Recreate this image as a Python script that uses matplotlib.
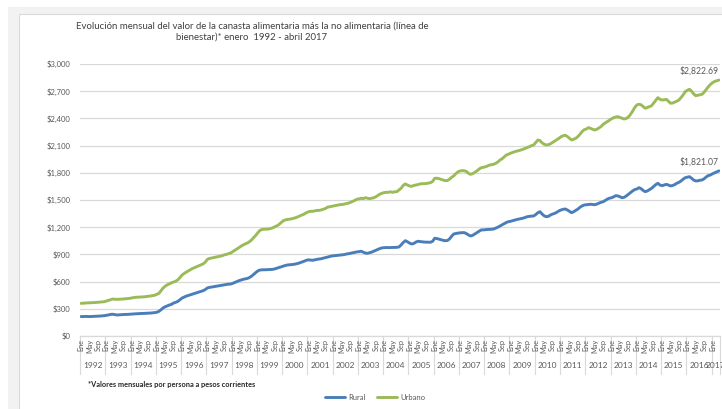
import matplotlib

matplotlib.use("Agg")
import matplotlib.pyplot as plt
import matplotlib.transforms as mtransforms
from matplotlib.lines import Line2D
from matplotlib.patches import Rectangle
import numpy as np

# ---------- Data (monthly, enero 1992 - abril 2017) ----------
years = list(range(1992, 2018))
month_labels = ["Ene", "May", "Sep"]

rural = [
    215, 214, 216, 215, 214, 215, 216, 217, 218, 220, 222, 224,  # 1992
    228, 232, 238, 240, 236, 232, 233, 235, 237, 238, 238, 240,  # 1993
    242, 244, 245, 246, 246, 247, 248, 250, 252, 253, 255, 258,  # 1994
    262, 272, 290, 310, 323, 333, 342, 350, 364, 372, 382, 400,  # 1995
    419, 430, 440, 448, 455, 462, 470, 478, 485, 492, 500, 512,  # 1996
    530, 536, 540, 544, 548, 552, 556, 560, 564, 568, 572, 573,  # 1997
    580, 590, 600, 610, 618, 625, 630, 635, 645, 660, 680, 700,  # 1998
    718, 728, 730, 730, 731, 732, 733, 735, 740, 748, 755, 762,  # 1999
    770, 778, 783, 785, 787, 790, 795, 800, 808, 815, 825, 835,  # 2000
    840, 838, 835, 840, 845, 848, 852, 858, 865, 870, 876, 882,  # 2001
    885, 888, 890, 892, 895, 898, 904, 908, 912, 918, 922, 928,  # 2002
    930, 935, 925, 915, 912, 918, 925, 935, 945, 955, 965, 972,  # 2003
    974, 976, 975, 976, 976, 977, 978, 982, 1004, 1030, 1051, 1040,  # 2004
    1025, 1015, 1020, 1035, 1045, 1042, 1040, 1036, 1035, 1034, 1034, 1045,  # 2005
    1078, 1075, 1068, 1060, 1055, 1051, 1053, 1070, 1100, 1125, 1130, 1135,  # 2006
    1138, 1140, 1140, 1130, 1115, 1103, 1110, 1125, 1140, 1155, 1169, 1170,  # 2007
    1172, 1175, 1176, 1177, 1180, 1190, 1200, 1213, 1225, 1240, 1252, 1261,  # 2008
    1265, 1272, 1279, 1285, 1290, 1295, 1300, 1308, 1316, 1320, 1322, 1324,  # 2009
    1340, 1360, 1371, 1345, 1325, 1316, 1320, 1335, 1345, 1353, 1365, 1380,  # 2010
    1390, 1397, 1401, 1390, 1375, 1360, 1371, 1385, 1400, 1420, 1435, 1445,  # 2011
    1448, 1450, 1453, 1450, 1448, 1455, 1465, 1475, 1481, 1495, 1510, 1520,  # 2012
    1525, 1535, 1548, 1545, 1535, 1525, 1530, 1545, 1563, 1580, 1600, 1615,  # 2013
    1621, 1636, 1625, 1605, 1592, 1600, 1615, 1629, 1650, 1670, 1684, 1665,  # 2014
    1658, 1665, 1673, 1665, 1655, 1660, 1670, 1685, 1695, 1710, 1730, 1746,  # 2015
    1752, 1757, 1740, 1720, 1710, 1712, 1718, 1721, 1735, 1755, 1770, 1776,  # 2016
    1790, 1800, 1810, 1821.07,  # 2017
]

urbano = [
    360, 362, 364, 365, 366, 367, 368, 370, 372, 374, 376, 378,  # 1992
    385, 392, 400, 408, 406, 404, 405, 406, 408, 410, 412, 415,  # 1993
    420, 424, 427, 428, 429, 430, 432, 435, 438, 441, 445, 450,  # 1994
    460, 470, 500, 530, 550, 565, 575, 588, 595, 605, 620, 645,  # 1995
    673, 690, 705, 718, 730, 745, 755, 765, 775, 785, 795, 815,  # 1996
    845, 855, 860, 865, 870, 875, 880, 885, 895, 900, 907, 915,  # 1997
    930, 945, 960, 975, 990, 1005, 1015, 1026, 1040, 1060, 1085, 1110,  # 1998
    1140, 1165, 1175, 1178, 1178, 1180, 1185, 1192, 1205, 1215, 1230, 1250,  # 1999
    1270, 1280, 1285, 1288, 1292, 1298, 1305, 1315, 1325, 1335, 1345, 1360,  # 2000
    1370, 1375, 1375, 1380, 1385, 1385, 1390, 1398, 1405, 1420, 1425, 1430,  # 2001
    1435, 1440, 1445, 1449, 1450, 1455, 1460, 1465, 1475, 1485, 1495, 1508,  # 2002
    1512, 1520, 1515, 1525, 1520, 1515, 1519, 1525, 1535, 1550, 1565, 1575,  # 2003
    1581, 1585, 1585, 1590, 1585, 1590, 1592, 1610, 1629, 1660, 1677, 1665,  # 2004
    1655, 1650, 1660, 1665, 1670, 1677, 1680, 1680, 1682, 1686, 1691, 1705,  # 2005
    1739, 1740, 1735, 1728, 1720, 1713, 1715, 1730, 1750, 1765, 1790, 1810,  # 2006
    1820, 1823, 1823, 1815, 1795, 1783, 1790, 1805, 1820, 1840, 1855, 1861,  # 2007
    1865, 1875, 1885, 1890, 1894, 1905, 1920, 1941, 1955, 1975, 1996, 2005,  # 2008
    2015, 2025, 2033, 2040, 2045, 2052, 2060, 2070, 2080, 2088, 2100, 2107,  # 2009
    2135, 2162, 2155, 2130, 2115, 2107, 2110, 2120, 2135, 2151, 2165, 2180,  # 2010
    2198, 2209, 2214, 2200, 2181, 2162, 2170, 2181, 2200, 2225, 2255, 2275,  # 2011
    2283, 2298, 2290, 2280, 2272, 2280, 2295, 2310, 2335, 2350, 2365, 2380,  # 2012
    2395, 2408, 2415, 2419, 2410, 2400, 2393, 2400, 2415, 2445, 2480, 2520,  # 2013
    2548, 2556, 2550, 2530, 2512, 2520, 2530, 2540, 2570, 2600, 2629, 2610,  # 2014
    2603, 2605, 2610, 2590, 2567, 2570, 2580, 2590, 2603, 2630, 2660, 2695,  # 2015
    2710, 2721, 2700, 2670, 2650, 2655, 2660, 2666, 2690, 2720, 2750, 2775,  # 2016
    2795, 2808, 2815, 2822.69,  # 2017
]

# ---------- Styling ----------
W, H = 722, 409
BLUE = "#4a7ebb"
GREEN = "#9bbb59"
GRID = "#d9d9d9"
TXT = "#595959"
plt.rcParams["font.family"] = ["Lato", "DejaVu Sans"]

fig = plt.figure(figsize=(W / 100, H / 100), dpi=100)
fig.patch.set_facecolor("white")


def px(x, y, w, h):
    # pixel box (top-left origin) -> figure fraction rect
    return (x / W, 1 - (y + h) / H, w / W, h / H)


# outer grey frame and white chart area
for (bx, by), fc, ec in (((8, 7), "#f2f2f2", "none"), ((19, 14), "white", GRID)):
    l, b, w, h = px(bx, by, W, H)
    fig.patches.append(Rectangle((l, b), w, h, transform=fig.transFigure,
                                 facecolor=fc, edgecolor=ec, linewidth=0.8, zorder=-5))

ax = fig.add_axes(px(80, 64, 640, 272))
ax.set_facecolor("none")

n = len(rural)
x = np.arange(n)
l_rural, = ax.plot(x, rural, color=BLUE, linewidth=2.1, label="Rural", solid_capstyle="round")
l_urb, = ax.plot(x, urbano, color=GREEN, linewidth=2.1, label="Urbano", solid_capstyle="round")

ax.set_xlim(-0.5, n - 0.5)
ax.set_ylim(0, 3000)
yt = np.arange(0, 3001, 300)
ax.set_yticks(yt)
ax.set_yticklabels([f"${v:,.0f}" for v in yt], fontsize=5.5, color=TXT)
ax.tick_params(axis="y", length=0, pad=7)
ax.set_xticks([])
ax.grid(axis="y", color=GRID, linewidth=0.9)
ax.set_axisbelow(True)
for side in ("top", "right", "left"):
    ax.spines[side].set_visible(False)
ax.spines["bottom"].set_color(GRID)
ax.spines["bottom"].set_linewidth(0.9)

# multi-level category axis: month labels, year labels, separators
trans = mtransforms.blended_transform_factory(ax.transData, fig.transFigure)
y_month_top = 1 - 339 / H
y_year = 1 - 366 / H
sep_top, sep_bot = 1 - 336 / H, 1 - 374 / H
for i, yr in enumerate(years):
    start = i * 12
    months_here = min(12, n - start)
    for j, lab in enumerate(month_labels):
        k = start + j * 4
        if k < n:
            ax.text(k, y_month_top, lab, transform=trans, rotation=90, ha="center",
                    va="top", fontsize=5.3, color=TXT)
    ax.text(start + (months_here - 1) / 2, y_year, str(yr), transform=trans,
            ha="center", va="center", fontsize=6, color=TXT)
    ax.add_line(Line2D([start - 0.5, start - 0.5], [sep_top, sep_bot], transform=trans,
                       color=GRID, linewidth=0.8, clip_on=False))
ax.add_line(Line2D([n - 0.5, n - 0.5], [sep_top, sep_bot], transform=trans,
                   color=GRID, linewidth=0.8, clip_on=False))

# data labels at the last point
for series in (urbano, rural):
    ax.annotate(f"${series[-1]:,.2f}", (n - 1, series[-1]), xytext=(0, 3),
                textcoords="offset points", ha="right", va="bottom",
                fontsize=6.2, color=TXT)

# title
fig.text(252 / W, 1 - 32 / H,
         "Evolución mensual del valor de la canasta alimentaria más la no alimentaria (línea de\n"
         "bienestar)* enero  1992 - abril 2017",
         ha="center", va="center", fontsize=6.9, color="#404040", linespacing=1.3)

# footnote
fig.text(88 / W, 1 - 384 / H, "*Valores mensuales por persona a pesos corrientes",
         ha="left", va="center", fontsize=5.3, fontweight="bold", color="#262626")

# legend
fig.legend(handles=[l_rural, l_urb], loc="center", bbox_to_anchor=(375 / W, 1 - 397 / H),
           ncol=2, frameon=False, fontsize=5.5, handlelength=2.6, handletextpad=0.4,
           columnspacing=1.6, labelcolor=TXT)

fig.savefig("out.png", dpi=100, facecolor="white")
